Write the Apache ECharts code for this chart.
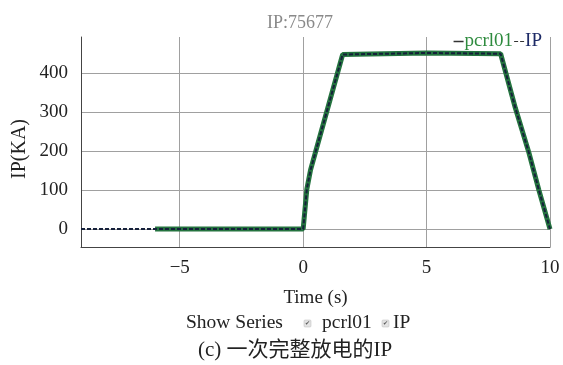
<!DOCTYPE html>
<html>
<head>
<meta charset="utf-8">
<script src="https://cdn.jsdelivr.net/npm/echarts@6.0.0/dist/echarts.min.js"></script>
<style>
  html, body { margin: 0; padding: 0; background: #fff; }
  #chart { width: 563px; height: 365px; }
</style>
</head>
<body>
<div id="chart"></div>
<script>
// 读图得到的数据点 (时间 s, 电流 KA)
const pcrl01Time = [-6, -3, 0, 0.15, 0.3, 1.6, 5, 8.0, 8.6, 9.15, 9.55, 10];
const pcrl01Vals = [0, 0, 0, 103, 152, 448, 452, 450, 310, 195, 100, 0];
const ipTime = [-9, -6, 0, 0.15, 0.3, 1.6, 5, 8.0, 8.6, 9.15, 9.55, 10];
const ipVals = [0, 0, 0, 103, 152, 448, 452, 450, 310, 195, 100, 0];
const xTicks = [-5, 0, 5, 10];
const yTicks = [0, 100, 200, 300, 400];

const serif = "Liberation Serif";
const pair = (xs, ys) => xs.map((x, i) => [x, ys[i]]);

const chart = echarts.init(document.getElementById("chart"));

const option = {
  animation: false,
  textStyle: { fontFamily: serif },
  title: {
    text: "IP:75677",
    left: 262,
    top: 9,
    textStyle: { color: "#8a8a8a", fontSize: 18, fontWeight: "normal", fontFamily: serif },
  },
  legend: {
    right: 16,
    top: 27,
    itemGap: 1,
    itemWidth: 10,
    itemHeight: 2,
    textStyle: { fontSize: 19, fontFamily: serif, padding: [0, 0, 0, -4] },
    data: [
      { name: "pcrl01", icon: "path://M0,0h8v1.2h-8z", textStyle: { color: "#2e8b3e" }, itemStyle: { color: "#333" } },
      { name: "IP", icon: "path://M0,0h4v1.2h-4zM6,0h4v1.2h-4z", textStyle: { color: "#1d2a66" }, itemStyle: { color: "#333" } },
    ],
  },
  grid: { left: 81, right: 13, top: 37, bottom: 118 },
  xAxis: {
    type: "value",
    min: -9,
    max: 10,
    name: "Time (s)",
    nameLocation: "middle",
    nameGap: 42,
    nameTextStyle: { fontSize: 19, color: "#222", fontFamily: serif },
    axisLine: { show: true, onZero: false, lineStyle: { color: "#444" } },
    axisTick: { show: false, customValues: xTicks },
    axisLabel: {
      customValues: xTicks,
      fontSize: 19,
      color: "#222",
      margin: 12,
      formatter: (v) => (v < 0 ? "\u2212" + Math.abs(v) : String(v)),
    },
    splitLine: { show: true, lineStyle: { color: "#a0a0a0" } },
  },
  yAxis: {
    type: "value",
    min: -46,
    max: 493,
    axisLine: { show: true, onZero: false, lineStyle: { color: "#444" } },
    axisTick: { show: false, customValues: yTicks },
    axisLabel: { customValues: yTicks, fontSize: 19, color: "#222", margin: 13 },
    splitLine: { show: true, lineStyle: { color: "#a0a0a0" } },
  },
  graphic: [
    { type: "text", x: 20, y: 149, rotation: Math.PI / 2, style: { text: "IP(KA)", fontSize: 20, fontFamily: serif, fill: "#222", align: "center", verticalAlign: "middle" } },
    { type: "text", left: 186, top: 313, style: { text: "Show Series", fontSize: 19.5, fontFamily: serif, fill: "#222" } },
    { type: "rect", shape: { x: 304, y: 320, width: 7, height: 7, r: 1 }, style: { fill: "#e4e4e4", stroke: "#bbb", lineWidth: 0.5 } },
    { type: "text", x: 307.5, y: 323.5, style: { text: "\u2714", fontSize: 6, fill: "#555", align: "center", verticalAlign: "middle" } },
    { type: "text", left: 322, top: 313, style: { text: "pcrl01", fontSize: 19.5, fontFamily: serif, fill: "#222" } },
    { type: "rect", shape: { x: 382, y: 320, width: 7, height: 7, r: 1 }, style: { fill: "#e4e4e4", stroke: "#bbb", lineWidth: 0.5 } },
    { type: "text", x: 385.5, y: 323.5, style: { text: "\u2714", fontSize: 6, fill: "#555", align: "center", verticalAlign: "middle" } },
    { type: "text", left: 393, top: 313, style: { text: "IP", fontSize: 19.5, fontFamily: serif, fill: "#222" } },
    { type: "text", left: 198, top: 340, style: { text: "(c) 一次完整放电的IP", fontSize: 21, fontFamily: serif + ", Noto Sans CJK SC", fill: "#222" } },
  ],
  series: [
    {
      name: "pcrl01",
      type: "line",
      data: pair(pcrl01Time, pcrl01Vals),
      showSymbol: false,
      symbol: "none",
      color: "#24733f",
      lineStyle: { color: "#24733f", width: 5 },
      z: 2,
    },
    {
      name: "IP",
      type: "line",
      data: pair(ipTime, ipVals),
      showSymbol: false,
      symbol: "none",
      color: "#15203a",
      lineStyle: { color: "#15203a", width: 2, type: [4, 2] },
      z: 3,
    },
  ],
};

chart.setOption(option);
</script>
</body>
</html>
